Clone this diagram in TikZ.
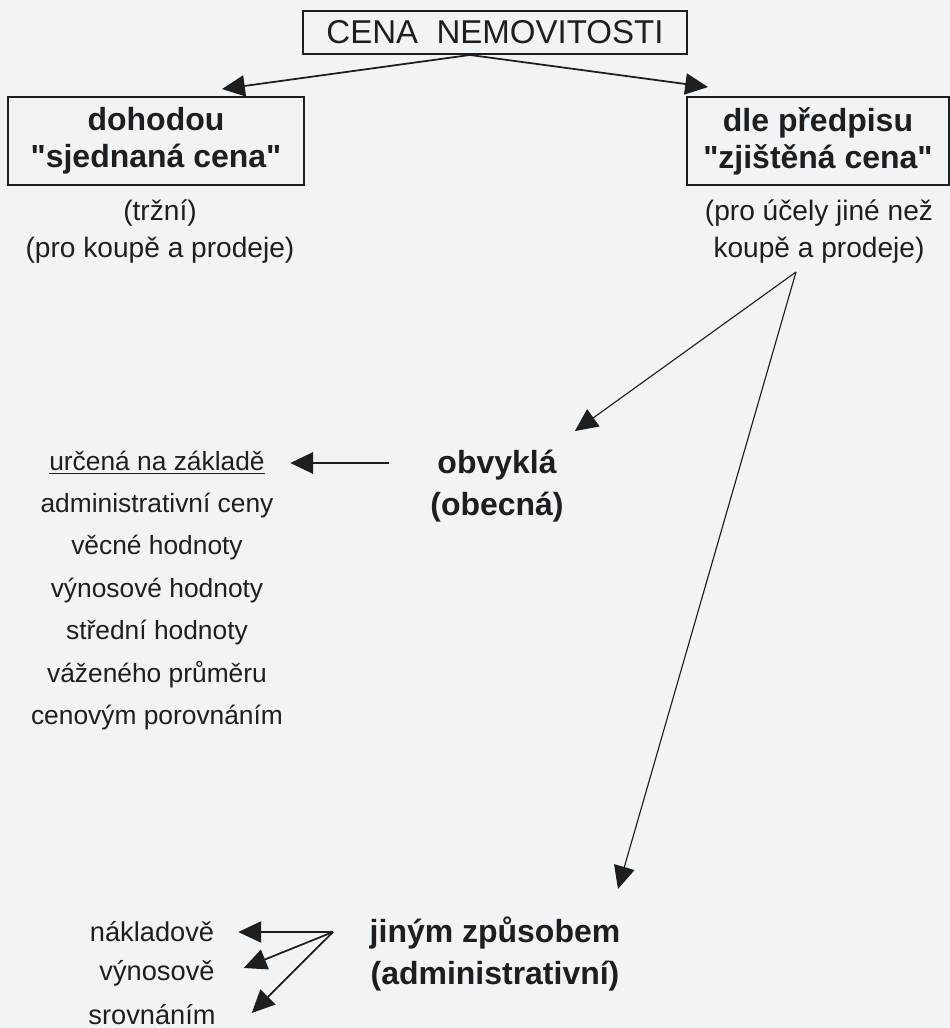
\documentclass[tikz,border=0pt]{standalone}
\usepackage{fontspec}
\setmainfont[Ligatures=TeXOff]{Liberation Sans}
\usetikzlibrary{arrows.meta}
\usetikzlibrary{calc}

\definecolor{papir}{RGB}{241,244,247}
\definecolor{inkoust}{RGB}{30,30,30}

\tikzset{
  hlavni/.style={draw=inkoust, line width=1.1pt, minimum width=7.68cm, minimum height=0.86cm,
    inner sep=0pt, font=\fontsize{18.8}{22}\selectfont},
  ramecek/.style={draw=inkoust, line width=1.1pt, minimum height=1.76cm, inner sep=0pt,
    align=center, font=\fontsize{18.2}{21}\selectfont\bfseries},
  poznamka/.style={align=center, font=\fontsize{16}{21}\selectfont},
  druh/.style={align=center, font=\fontsize{18.2}{23.5}\selectfont\bfseries},
  polozka/.style={align=center, font=\fontsize{15}{24.2}\selectfont},
  sipka/.style={-{Triangle[length=13pt,width=12pt]}, line width=1pt, draw=inkoust},
  tenka/.style={sipka, line width=0.65pt}
}

\begin{document}
\begin{tikzpicture}[x=0.02cm, y=-0.02cm, text=inkoust]
        \fill[papir] (0,0) rectangle (950,1028);
        \useasboundingbox (0,0) rectangle (950,1028);

        \node[hlavni] (cena) at (495,32.5) {CENA\ \ NEMOVITOSTI};
        \node[ramecek, minimum width=5.92cm] (dohoda) at (156,141) {dohodou\\"sjednaná cena"};
        \node[ramecek, minimum width=5.24cm] (predpis) at (818,141) {dle předpisu\\"zjištěná cena"};
        \node[poznamka] (trzni) at (160,231.5) {(tržní)\\(pro koupě a prodeje)};
        \node[poznamka] (ucely) at (819,232) {(pro účely jiné než\\koupě a prodeje)};

        \draw[sipka] ([xshift=-0.5cm]cena.south) -- ([xshift=1.32cm,yshift=0.14cm]dohoda.north);
        \draw[sipka] ([xshift=-0.5cm]cena.south) -- ([xshift=0.44cm,yshift=0.18cm]predpis.north west);

        % obvykla cena
        \coordinate (rozdel) at (796,272);
        \node[druh] (obvykla) at (497,486) {obvyklá\\(obecná)};
        \node[polozka] (urcena) at (157,463) {\underline{určená na základě}};
        \node[polozka] (metody) at (157,611.5) {administrativní ceny\\věcné hodnoty\\výnosové hodnoty\\střední hodnoty\\váženého průměru\\cenovým porovnáním};

        \draw[tenka] (rozdel) -- ([xshift=0.1cm,yshift=0.26cm]obvykla.north east);
        \draw[sipka, line width=1.6pt, shorten <=20pt, shorten >=11pt] (obvykla.west |- urcena.east) -- (urcena.east);

        % administrativni cena
        \node[druh] (jinym) at (495,954) {jiným způsobem\\(administrativní)};
        \draw[tenka] (rozdel) -- ([xshift=2.46cm,yshift=0.44cm]jinym.north);

        \coordinate (vetev) at (333,932);
        \node[polozka, font=\fontsize{15.5}{18}\selectfont] (naklad) at (152,932) {nákladově};
        \node[polozka, font=\fontsize{15.5}{18}\selectfont] (vynos) at (157,973) {výnosově};
        \node[polozka, font=\fontsize{15.5}{18}\selectfont] (srovn) at (152,1015) {srovnáním};

        \draw[sipka] (vetev) -- ([xshift=0.36cm]naklad.east);
        \draw[sipka] (vetev) -- ([xshift=0.46cm,yshift=0.1cm]vynos.east);
        \draw[sipka] (vetev) -- ([xshift=0.6cm,yshift=0.04cm]srovn.east);
    \end{tikzpicture}
\end{document}
